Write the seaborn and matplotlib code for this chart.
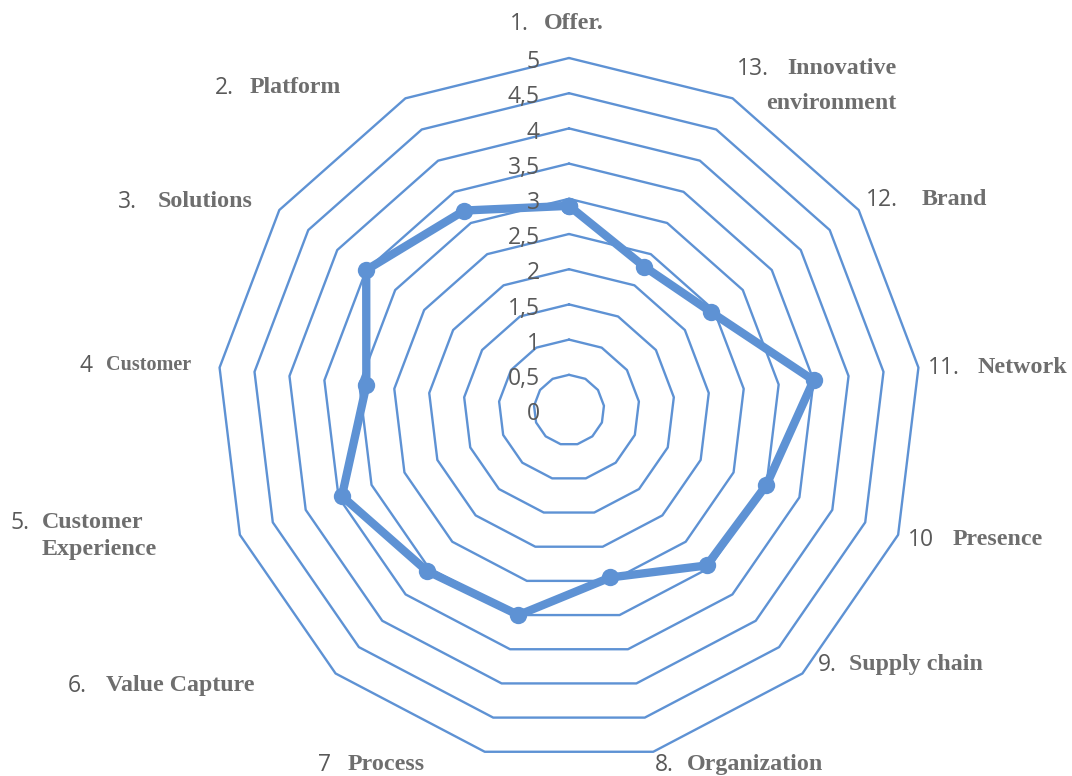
import numpy as np
import matplotlib
matplotlib.use("Agg")
import matplotlib.pyplot as plt
import seaborn as sns

# data (axes go counter-clockwise from the top)
numbers = ["1.", "2.", "3.", "4", "5.", "6.", "7", "8.", "9.", "10", "11.", "12.", "13."]
names = ["Offer.", "Platform", "Solutions", "Customer", "Customer",
         "Value Capture", "Process", "Organization", "Supply chain", "Presence",
         "Network", "Brand", "Innovative"]
names_line2 = ["", "", "", "", "Experience", "", "", "", "", "", "", "", "environment"]
scores = [2.9, 3.2, 3.5, 2.9, 3.45, 3.05, 3.0, 2.45, 2.95, 3.0, 3.5, 2.45, 2.3]
ring_levels = [0.5, 1, 1.5, 2, 2.5, 3, 3.5, 4, 4.5, 5]
tick_levels = [0, 0.5, 1, 1.5, 2, 2.5, 3, 3.5, 4, 4.5, 5]
tick_texts = ["0", "0,5", "1", "1,5", "2", "2,5", "3", "3,5", "4", "4,5", "5"]

# label placement (pixel position of the number, left edge / vertical centre)
label_px = [(510, 24), (215, 88), (118, 202), (79, 366), (10, 523), (68, 686),
            (318, 765), (655, 765), (818, 665), (908, 540), (928, 368),
            (866, 200), (737, 69)]
label_gap = [11, 11, 15, 10, 9, 14, 12, 9, 9, 13, 13, 17, 13]
name_size = [17.3, 17.2, 17.3, 14.5, 17.3, 17.2, 17.3, 17.3, 17.2, 17.2, 17.3, 17.3, 17.2]
line2_drop = {4: -4.5, 12: -10}
line2_align = {4: "left", 12: "right"}

W, H = 1072, 776
blue = "#5E92D4"
num_color = "#595959"
name_color = "#6E6E6E"

sns.set_style("white")

fig = plt.figure(figsize=(W / 100, H / 100), dpi=100)
cx, cy, R = 569, 410, 352
ax = fig.add_axes([(cx - R) / W, (H - cy - R) / H, 2 * R / W, 2 * R / H], projection="polar")
ax.set_theta_zero_location("N")
ax.set_theta_direction(1)

theta = np.linspace(0, 2 * np.pi, len(scores), endpoint=False)
theta_closed = np.append(theta, theta[0])

# polygon grid rings
for lvl in ring_levels:
    ax.plot(theta_closed, [lvl] * len(theta_closed), color=blue, lw=1.7,
            clip_on=False, zorder=1)

# data polygon
closed_scores = scores + scores[:1]
sns.lineplot(x=theta_closed, y=closed_scores, ax=ax, sort=False, color=blue,
             lw=6, marker="o", markersize=12.5, markeredgewidth=0, zorder=3,
             estimator=None)

ax.set_ylim(0, 5)
ax.grid(False)
ax.set_xticks([])
ax.set_yticks([])
ax.spines["polar"].set_visible(False)
ax.set_xlabel("")
ax.set_ylabel("")

# radial tick labels along the top axis
for lvl, txt in zip(tick_levels, tick_texts):
    ax.annotate(txt, xy=(0, lvl), xytext=(-21, -3), textcoords="offset points",
                ha="right", va="center", fontsize=16.5, color=num_color,
                family=["Open Sans", "DejaVu Sans"], zorder=4)

# category labels: sans number followed by bold serif name
serif = ["Liberation Serif", "DejaVu Serif"]
for i, (num, name, (px, py), gap, fs) in enumerate(zip(numbers, names, label_px,
                                                       label_gap, name_size)):
    t = fig.text(px / W, 1 - py / H, num, ha="left", va="center", fontsize=16.5,
                 color=num_color, family=["Open Sans", "DejaVu Sans"])
    n1 = ax.annotate(name, xy=(1, 1), xycoords=t, xytext=(gap, -0.5),
                     textcoords="offset points", ha="left", va="top", fontsize=fs,
                     fontweight="bold", color=name_color, family=serif,
                     annotation_clip=False)
    if names_line2[i]:
        al = line2_align[i]
        ax.annotate(names_line2[i], xy=(0 if al == "left" else 1, 0), xycoords=n1,
                    xytext=(0, line2_drop[i]), textcoords="offset points", ha=al,
                    va="top", fontsize=fs, fontweight="bold", color=name_color,
                    family=serif, annotation_clip=False)

fig.savefig("out.png", dpi=100, facecolor="white")
